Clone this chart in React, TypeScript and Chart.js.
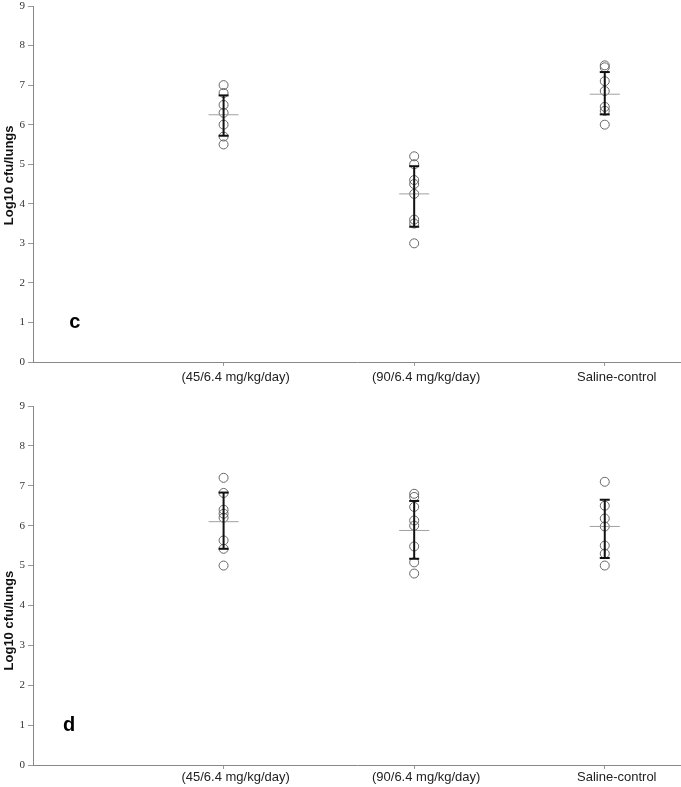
import React, { useEffect, useRef } from "react";
import { Chart, registerables } from "chart.js";

Chart.register(...registerables);

const categories = ["(45/6.4 mg/kg/day)", "(90/6.4 mg/kg/day)", "Saline-control"];
const yTickValues = [0, 1, 2, 3, 4, 5, 6, 7, 8, 9];
const yTitle = "Log10 cfu/lungs";

// Panel c
const cGroup1 = [7.0, 6.8, 6.5, 6.3, 6.0, 5.7, 5.5];
const cGroup2 = [5.2, 5.0, 4.6, 4.5, 4.25, 3.6, 3.5, 3.0];
const cGroup3 = [7.5, 7.45, 7.1, 6.85, 6.45, 6.35, 6.0];
const cMeans = [6.25, 4.25, 6.77];
const cLow = [5.72, 3.42, 6.26];
const cHigh = [6.74, 4.95, 7.33];

// Panel d
const dGroup1 = [7.2, 6.82, 6.4, 6.3, 6.2, 5.63, 5.42, 5.0];
const dGroup2 = [6.8, 6.72, 6.47, 6.13, 6.0, 5.48, 5.08, 4.8];
const dGroup3 = [7.1, 6.5, 6.18, 5.98, 5.5, 5.3, 5.0];
const dMeans = [6.1, 5.88, 5.98];
const dLow = [5.42, 5.17, 5.19];
const dHigh = [6.83, 6.62, 6.65];

type PanelProps = {
  groups: number[][];
  means: number[];
  low: number[];
  high: number[];
  label: string;
  labelX: number;
  labelY: number;
  titleCenter: number;
  width: number;
  height: number;
  padTop: number;
  xAxisH: number;
  xTickPad: number;
};

function Panel(p: PanelProps) {
  const ref = useRef<HTMLCanvasElement | null>(null);
  useEffect(() => {
    if (!ref.current) return;
    const errorSets = p.low.map((lo, i) => ({
      type: "line" as const,
      data: [
        { x: i + 1, y: lo },
        { x: i + 1, y: p.high[i] },
      ],
      borderColor: "#111",
      borderWidth: 2,
      pointStyle: "line" as const,
      pointRadius: 5,
      pointBorderWidth: 2,
      pointBorderColor: "#111",
      showLine: true,
      order: 1,
    }));
    const meanSet = {
      type: "scatter" as const,
      data: p.means.map((m, i) => ({ x: i + 1, y: m })),
      pointStyle: "line" as const,
      pointRadius: 15,
      borderColor: "#a0a0a0",
      pointBorderWidth: 1,
      order: 2,
    };
    const circleSet = {
      type: "scatter" as const,
      data: p.groups.flatMap((g, i) => g.map((v) => ({ x: i + 1, y: v }))),
      pointStyle: "circle" as const,
      pointRadius: 4.5,
      backgroundColor: "rgba(0,0,0,0)",
      borderColor: "#666",
      pointBorderWidth: 1,
      order: 3,
    };
    const panelLabel = {
      id: "panelLabel",
      afterDatasetsDraw(chart: any) {
        const ctx = chart.ctx;
        const xs = chart.scales.x;
        const ys = chart.scales.y;
        ctx.save();
        ctx.font = "bold 20px 'Liberation Sans', Arial, sans-serif";
        ctx.fillStyle = "#000";
        ctx.textAlign = "center";
        ctx.textBaseline = "middle";
        ctx.fillText(p.label, xs.getPixelForValue(p.labelX), ys.getPixelForValue(p.labelY));
        // rotated y-axis title
        ctx.font = "bold 13px 'Liberation Sans', Arial, sans-serif";
        ctx.fillStyle = "#111";
        ctx.translate(9, ys.getPixelForValue(p.titleCenter));
        ctx.rotate(-Math.PI / 2);
        ctx.fillText(yTitle, 0, 0);
        ctx.restore();
      },
    };
    const chart = new Chart(ref.current, {
      type: "scatter",
      data: { datasets: [...errorSets, meanSet, circleSet] as any },
      options: {
        animation: false,
        responsive: false,
        plugins: { legend: { display: false }, tooltip: { enabled: false } },
        layout: { autoPadding: false, padding: { top: p.padTop, left: 0, right: 0, bottom: 0 } },
        scales: {
          x: {
            type: "linear",
            min: 0,
            max: 3.4,
            afterBuildTicks: (a: any) => {
              a.ticks = categories.map((_, i) => ({ value: i + 1 }));
            },
            afterFit: (s: any) => {
              s.height = p.xAxisH;
              s.paddingLeft = 0;
              s.paddingRight = 0;
            },
            ticks: {
              callback: (_v: any, idx: number) => categories[idx] ?? "",
              font: { family: "'Liberation Sans', Arial, sans-serif", size: 13 },
              color: "#222",
              padding: p.xTickPad,
              labelOffset: 12,
              maxRotation: 0,
              autoSkip: false,
            },
            grid: { drawOnChartArea: false, tickLength: 4, color: "#999" },
            border: { color: "#888", width: 1 },
          },
          y: {
            type: "linear",
            min: 0,
            max: 9,
            afterBuildTicks: (a: any) => {
              a.ticks = yTickValues.map((v) => ({ value: v }));
            },
            afterFit: (s: any) => {
              s.width = 33;
              s.paddingTop = 0;
              s.paddingBottom = 0;
            },
            ticks: {
              font: { family: "'Liberation Serif', 'Times New Roman', serif", size: 11 },
              color: "#333",
              padding: 3,
            },
            grid: { drawOnChartArea: false, tickLength: 5, color: "#999" },
            border: { color: "#888", width: 1 },
            title: { display: false },
          },
        },
      } as any,
      plugins: [panelLabel],
    });
    return () => chart.destroy();
  }, []);
  return (
    <canvas
      ref={ref}
      width={p.width}
      height={p.height}
      style={{ display: "block", width: p.width, height: p.height }}
    />
  );
}

export default function App() {
  return (
    <div
      style={{
        position: "absolute",
        left: 0,
        top: 0,
        width: 681,
        height: 787,
        background: "#fff",
      }}
    >
      <Panel
        groups={[cGroup1, cGroup2, cGroup3]}
        means={cMeans}
        low={cLow}
        high={cHigh}
        label="c"
        labelX={0.22}
        labelY={1}
        titleCenter={4.72}
        width={681}
        height={390}
        padTop={6}
        xAxisH={28}
        xTickPad={4}
      />
      <Panel
        groups={[dGroup1, dGroup2, dGroup3]}
        means={dMeans}
        low={dLow}
        high={dHigh}
        label="d"
        labelX={0.19}
        labelY={1}
        titleCenter={3.62}
        width={681}
        height={397}
        padTop={16}
        xAxisH={22}
        xTickPad={1}
      />
    </div>
  );
}
